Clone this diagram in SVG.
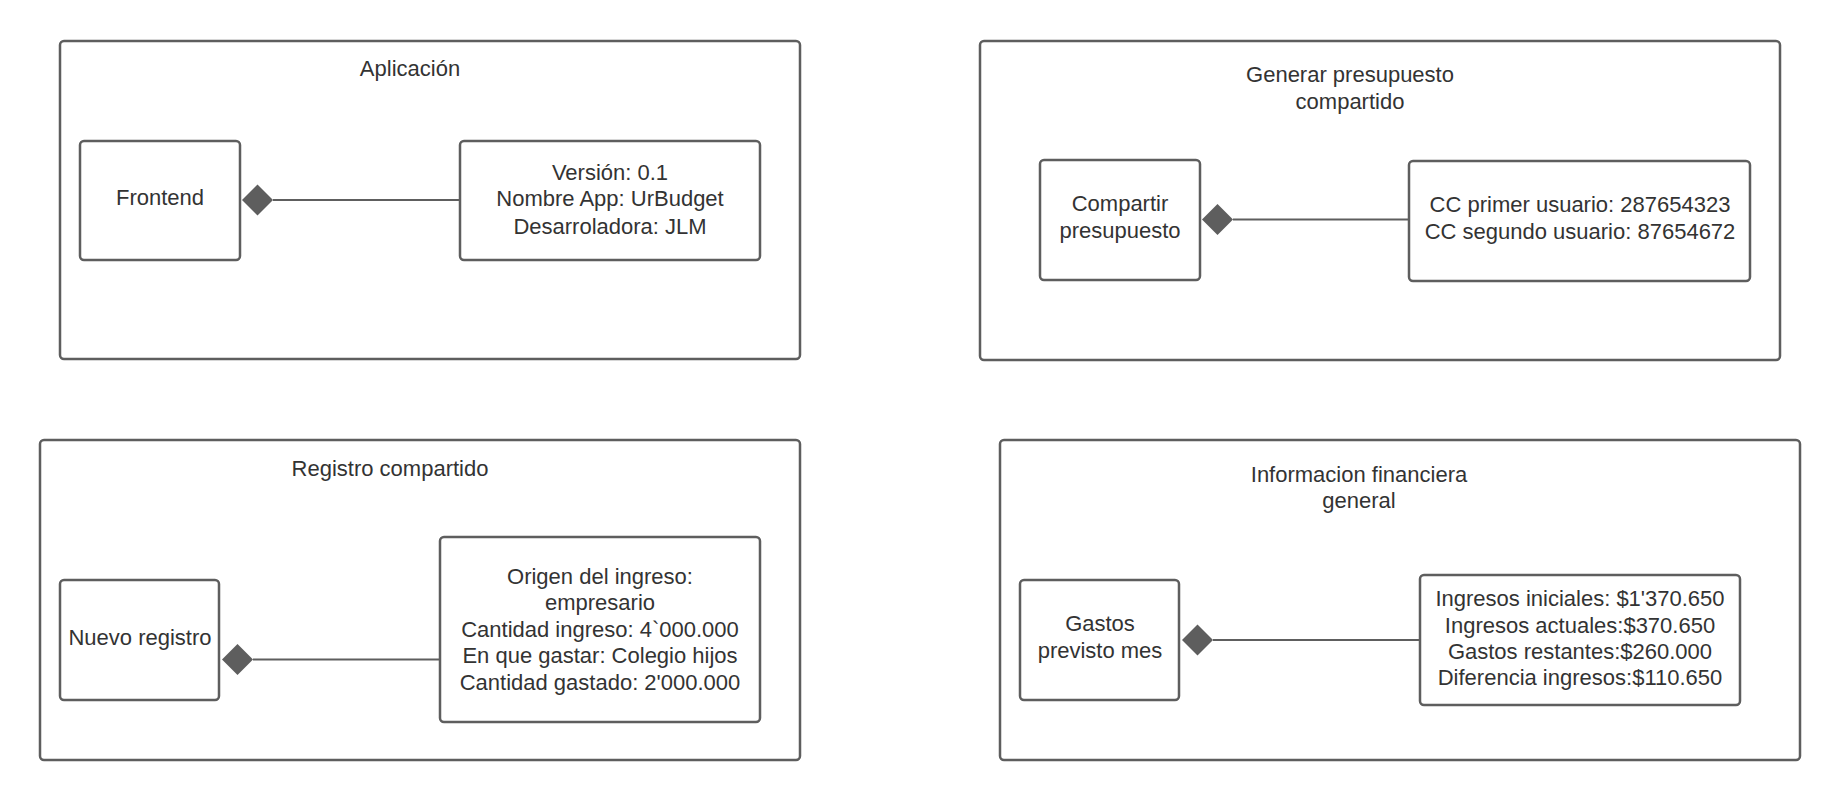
<svg xmlns="http://www.w3.org/2000/svg" width="1840" height="800" viewBox="0 0 1840 800">
<style>
.frame{fill:#ffffff;stroke:#5e5e5e;stroke-width:2.5}
.box{fill:#ffffff;stroke:#5e5e5e;stroke-width:2.5}
.t{font-family:"Liberation Sans",Arial,sans-serif;font-size:22px;fill:#333333;text-anchor:middle}
.link{stroke:#5e5e5e;stroke-width:2;fill:none}
.dia{fill:#5e5e5e;stroke:none}
</style>
<rect width="1840" height="800" fill="#ffffff"/>
<g id="frame-aplicacion">
<rect class="frame" x="60" y="41" width="740" height="318" rx="4"/>
<text class="t" x="410" y="76">Aplicación</text>
</g>
<g id="frame-generar">
<rect class="frame" x="980" y="41" width="800" height="319" rx="4"/>
<text class="t" x="1350" y="82">Generar presupuesto</text>
<text class="t" x="1350" y="109">compartido</text>
</g>
<g id="frame-registro">
<rect class="frame" x="40" y="440" width="760" height="320" rx="4"/>
<text class="t" x="390" y="476">Registro compartido</text>
</g>
<g id="frame-informacion">
<rect class="frame" x="1000" y="440" width="800" height="320" rx="4"/>
<text class="t" x="1359" y="482">Informacion financiera</text>
<text class="t" x="1359" y="508">general</text>
</g>
<g id="node-frontend">
<rect class="box" x="80" y="141" width="160" height="119" rx="4"/>
<text class="t" x="160" y="205">Frontend</text>
</g>
<g id="node-version">
<rect class="box" x="460" y="141" width="300" height="119" rx="4"/>
<text class="t" x="610" y="180">Versión: 0.1</text>
<text class="t" x="610" y="206">Nombre App: UrBudget</text>
<text class="t" x="610" y="234">Desarroladora: JLM</text>
</g>
<g id="node-compartir">
<rect class="box" x="1040" y="160" width="160" height="120" rx="4"/>
<text class="t" x="1120" y="211">Compartir</text>
<text class="t" x="1120" y="238">presupuesto</text>
</g>
<g id="node-cc">
<rect class="box" x="1409" y="161" width="341" height="120" rx="4"/>
<text class="t" x="1580" y="212">CC primer usuario: 287654323</text>
<text class="t" x="1580" y="239">CC segundo usuario: 87654672</text>
</g>
<g id="node-nuevo">
<rect class="box" x="60" y="580" width="159" height="120" rx="4"/>
<text class="t" x="140" y="645">Nuevo registro</text>
</g>
<g id="node-origen">
<rect class="box" x="440" y="537" width="320" height="185" rx="4"/>
<text class="t" x="600" y="584">Origen del ingreso:</text>
<text class="t" x="600" y="610">empresario</text>
<text class="t" x="600" y="637">Cantidad ingreso: 4`000.000</text>
<text class="t" x="600" y="663">En que gastar: Colegio hijos</text>
<text class="t" x="600" y="690">Cantidad gastado: 2'000.000</text>
</g>
<g id="node-gastos">
<rect class="box" x="1020" y="580" width="159" height="120" rx="4"/>
<text class="t" x="1100" y="631">Gastos</text>
<text class="t" x="1100" y="658">previsto mes</text>
</g>
<g id="node-ingresos">
<rect class="box" x="1420" y="575" width="320" height="130" rx="4"/>
<text class="t" x="1580" y="606">Ingresos iniciales: $1'370.650</text>
<text class="t" x="1580" y="633">Ingresos actuales:$370.650</text>
<text class="t" x="1580" y="659">Gastos restantes:$260.000</text>
<text class="t" x="1580" y="685">Diferencia ingresos:$110.650</text>
</g>
<g id="connectors">
<line class="link" x1="273" y1="200" x2="460" y2="200"/>
<polygon class="dia" points="242,200 257.5,184.5 273,200 257.5,215.5"/>
<line class="link" x1="1233" y1="219.5" x2="1409" y2="219.5"/>
<polygon class="dia" points="1202,219.5 1217.5,204 1233,219.5 1217.5,235"/>
<line class="link" x1="253" y1="659.5" x2="440" y2="659.5"/>
<polygon class="dia" points="222,659.5 237.5,644 253,659.5 237.5,675"/>
<line class="link" x1="1213" y1="640" x2="1420" y2="640"/>
<polygon class="dia" points="1182,640 1197.5,624.5 1213,640 1197.5,655.5"/>
</g>
</svg>
